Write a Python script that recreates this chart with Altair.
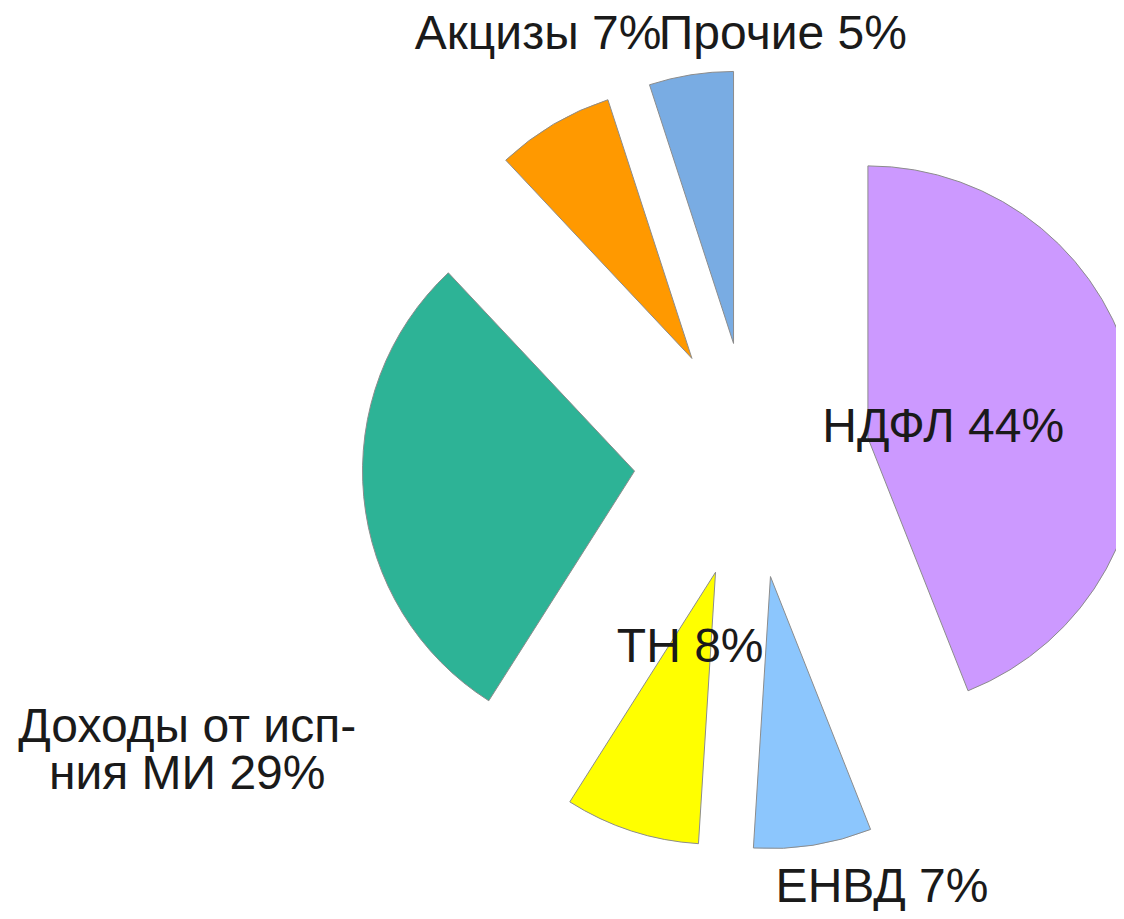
import altair as alt
import pandas as pd

# ---- data -------------------------------------------------------------
CATEGORIES = ["НДФЛ", "ЕНВД", "ТН", "Доходы от исп-ния МИ", "Акцизы", "Прочие"]
SHARES = [44, 7, 8, 29, 7, 5]
LABELS = ["НДФЛ 44%", "ЕНВД 7%", "ТН 8%", "Доходы от исп-\nния МИ 29%", "Акцизы 7%", "Прочие 5%"]

# ---- style / layout ---------------------------------------------------
COLORS = ["#CC99FF", "#8CC6FD", "#FFFF00", "#2DB396", "#FF9900", "#79ACE3"]
LABEL_DIST = [76, 331, 80, 516, 358, 312]         # label distance from slice tip
LABEL_SHIFT = [3, -10.7, 0.5, -24.5, 5.15, 18.1]  # angular nudge of label (deg)
EXPLODE = 118
RADIUS = 272
CX, CY = 744, 452

df = pd.DataFrame({
    "category": CATEGORIES,
    "share": SHARES,
    "label": LABELS,
    "idx": list(range(len(CATEGORIES))),
    "ldist": LABEL_DIST,
    "lshift": LABEL_SHIFT,
})

base = (
    alt.Chart(df)
    .transform_joinaggregate(total="sum(share)")
    .transform_window(cum="sum(share)", sort=[alt.SortField("idx")], frame=[None, 0])
    .transform_calculate(
        mid="2*PI*(datum.cum - datum.share/2)/datum.total",
    )
    .transform_calculate(
        dx=f"{EXPLODE}*sin(datum.mid)",
        dy=f"-{EXPLODE}*cos(datum.mid)",
        la="datum.mid + datum.lshift*PI/180",
    )
    .transform_calculate(
        lx="datum.dx + datum.ldist*sin(datum.la)",
        ly="datum.dy - datum.ldist*cos(datum.la)",
    )
)

arcs = base.mark_arc(
    outerRadius=RADIUS,
    stroke="#8c8c8c",
    strokeWidth=1,
    xOffset={"expr": "datum.dx"},
    yOffset={"expr": "datum.dy"},
).encode(
    theta=alt.Theta("share:Q", stack=True),
    order=alt.Order("idx:Q"),
    color=alt.Color("category:N", scale=alt.Scale(domain=CATEGORIES, range=COLORS), legend=None),
    x=alt.value(CX),
    y=alt.value(CY),
)

texts = base.mark_text(
    font="Liberation Sans",
    fontSize=48,
    color="#1a1a1a",
    align="center",
    baseline="middle",
    lineBreak="\n",
    lineHeight=47,
    xOffset={"expr": "datum.lx"},
    yOffset={"expr": "datum.ly"},
).encode(
    text="label:N",
    x=alt.value(CX),
    y=alt.value(CY),
)

chart = (
    alt.layer(arcs, texts)
    .properties(
        width=1108,
        height=903,
        padding=0,
        autosize=alt.AutoSizeParams(type="none"),
    )
    .configure_view(stroke=None)
)

chart.save("out.html", embed_options={"renderer": "svg", "actions": False})
